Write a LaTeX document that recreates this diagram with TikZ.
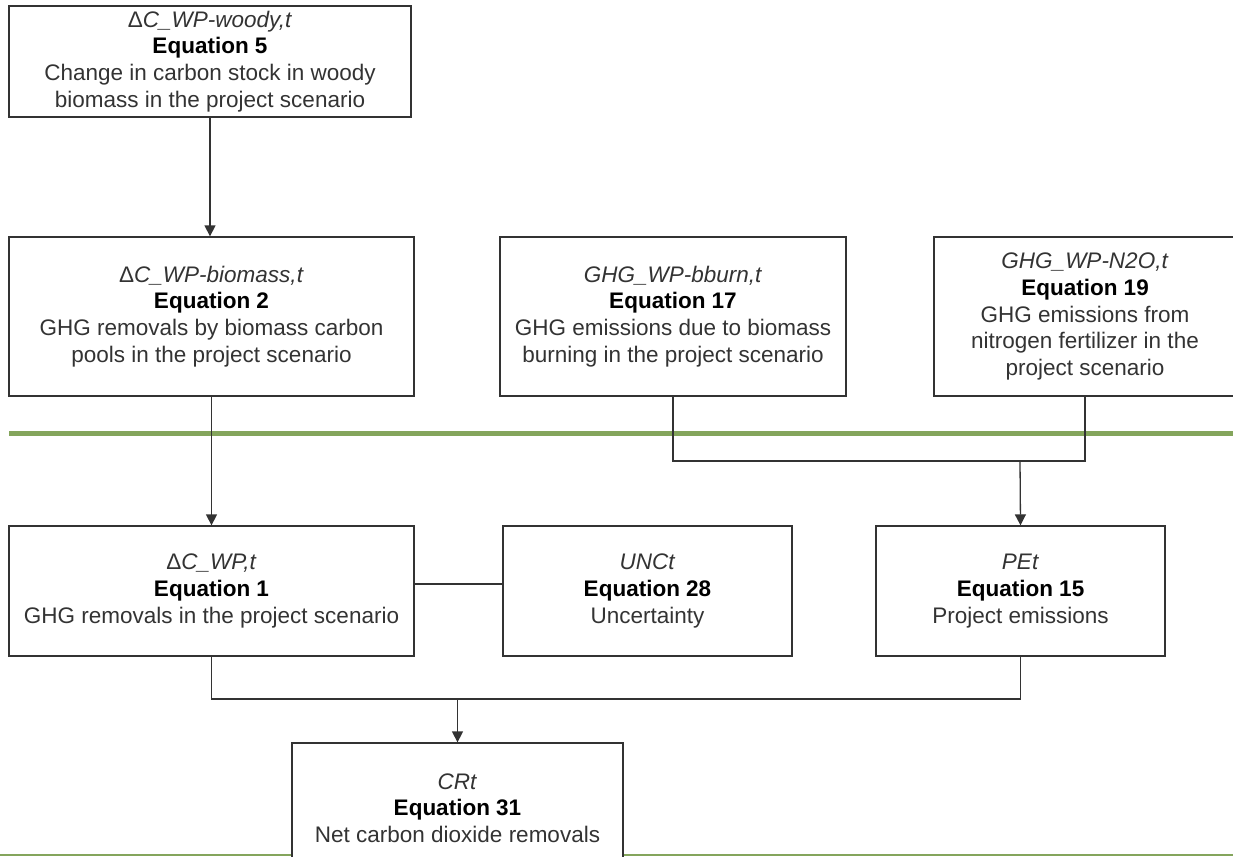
\documentclass[tikz,border=0pt]{standalone}
\usepackage{fontspec}
\setmainfont{Liberation Sans}
\usetikzlibrary{arrows.meta}

\definecolor{sepgreen}{RGB}{132,165,92}
\definecolor{boxline}{RGB}{51,51,51}

\newcommand{\eqlabel}[3]{\textit{#1}\\{\color{black}\bfseries #2}\\#3}
\newcommand{\dlt}{\textup{Δ}}

\tikzset{
    eqbox/.style={draw=boxline, line width=1.3pt, fill=white, align=center, inner sep=0pt,
        text=boxline, font=\fontsize{22.5}{26.7}\selectfont},
    link/.style={draw=boxline, line width=1.3pt},
    linkarrow/.style={link, -{Triangle[width=11pt,length=11pt]}}
}

\begin{document}
\begin{tikzpicture}[x=1pt, y=-1pt]
            \useasboundingbox (0,0) rectangle (1233,856);
            \clip (0,0) rectangle (1233,856);
            \fill[white] (0,0) rectangle (1233,856);

            \draw[sepgreen, line width=5pt] (9,433) -- (1233,433);
            \draw[sepgreen, line width=1.5pt] (0,855) -- (1233,855);

            \node[eqbox, minimum width=402, minimum height=111] (woody) at (210,61.5)
                {\eqlabel{\dlt C\_WP-woody,t}{Equation 5}{Change in carbon stock in woody\\biomass in the project scenario}};
            \node[eqbox, minimum width=405, minimum height=159] (biomass) at (211.5,316.5)
                {\eqlabel{\dlt C\_WP-biomass,t}{Equation 2}{GHG removals by biomass carbon\\pools in the project scenario}};
            \node[eqbox, minimum width=346, minimum height=159] (bburn) at (673,316.5)
                {\eqlabel{GHG\_WP-bburn,t}{Equation 17}{GHG emissions due to biomass\\burning in the project scenario}};
            \node[eqbox, minimum width=302, minimum height=159] (nitro) at (1085,316.5)
                {\eqlabel{GHG\_WP-N2O,t}{Equation 19}{GHG emissions from\\nitrogen fertilizer in the\\project scenario}};
            \node[eqbox, minimum width=405, minimum height=130] (removal) at (211.5,591)
                {\eqlabel{\dlt C\_WP,t}{Equation 1}{GHG removals in the project scenario}};
            \node[eqbox, minimum width=289, minimum height=130] (uncert) at (647.5,591)
                {\eqlabel{UNCt}{Equation 28}{Uncertainty}};
            \node[eqbox, minimum width=289, minimum height=130] (emission) at (1020.5,591)
                {\eqlabel{PEt}{Equation 15}{Project emissions}};

            \coordinate (joinPE) at (1020,461);
            \coordinate (joinCR) at (457.5,699);

            \draw[linkarrow] (woody.south) -- (woody.south |- biomass.north);
            \draw[linkarrow] (biomass.south) -- (removal.north);
            \draw[link] (bburn.south) |- (joinPE) -| (nitro.south);
            \draw[linkarrow] (joinPE) -- (emission.north);
            \draw[link] ([yshift=7pt]removal.east) -- ([yshift=7pt]uncert.west);
            \draw[link] (removal.south) |- (joinCR) -| (emission.south);

            \node[eqbox, minimum width=331, minimum height=130] (netcr) at (457.5,808)
                {\eqlabel{CRt}{Equation 31}{Net carbon dioxide removals}};
            \draw[linkarrow] (joinCR) -- (netcr.north);
        \end{tikzpicture}
\end{document}
